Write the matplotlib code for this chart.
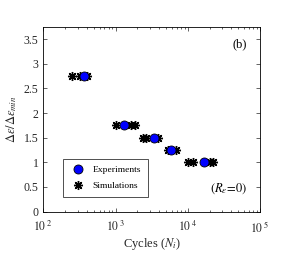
import matplotlib.pyplot as plt

plt.rcParams['font.family'] = ['Liberation Serif', 'DejaVu Serif']
plt.rcParams['mathtext.fontset'] = 'stix'

# experiments
exp_cycles = [362, 1307, 3395, 5780, 16700]
exp_strain = [2.75, 1.75, 1.5, 1.25, 1.0]

# simulations
sim_cycles = [247, 322, 402,
              1013, 1654, 1854,
              2370, 2630, 3890,
              5310, 6840,
              10030, 11750, 20000, 22250]
sim_strain = [2.75, 2.75, 2.75,
              1.75, 1.75, 1.75,
              1.5, 1.5, 1.5,
              1.25, 1.25,
              1.0, 1.0, 1.0, 1.0]

xticks = [1e2, 1e3, 1e4, 1e5]
xtick_labels = [r'$10^{\ 2}$', r'$10^{\ 3}$', r'$10^{\ 4}$', r'$10^{\ 5}$']
yticks = [0, 0.5, 1, 1.5, 2, 2.5, 3, 3.5]
ytick_labels = ['0', '0.5', '1', '1.5', '2', '2.5', '3', '3.5']

fig = plt.figure(figsize=(2.89, 2.60), dpi=100)
ax = fig.add_axes([0.15, 0.186, 0.75, 0.711])

ax.plot(sim_cycles, sim_strain, linestyle='none', marker=(8, 2, 0), markersize=6.5,
        color='black', markeredgewidth=1.0, label='Simulations', zorder=2)
ax.plot(exp_cycles, exp_strain, linestyle='none', marker='o', markersize=6.5,
        markerfacecolor='#0000ff', markeredgecolor='black', markeredgewidth=0.6,
        label='Experiments', zorder=3)

ax.set_xscale('log')
ax.set_xlim(1e2, 1e5)
ax.set_ylim(0, 3.75)
ax.set_xticks(xticks)
ax.set_xticklabels(xtick_labels)
ax.set_yticks(yticks)
ax.set_yticklabels(ytick_labels)
ax.tick_params(which='both', direction='in', top=True, right=True, labelsize=8.5,
               width=0.5, colors='#262626')
ax.tick_params(which='major', length=3)
ax.tick_params(which='minor', length=1.5)
ax.tick_params(axis='x', which='major', pad=6)
for s in ax.spines.values():
    s.set_linewidth(0.6)

ax.set_xlabel(r'Cycles ($N_i$)', fontsize=9, color='#262626', labelpad=1)
ax.set_ylabel(r'$\Delta\varepsilon/\Delta\varepsilon_{min}$', fontsize=9, color='#262626', labelpad=3)

handles, labels = ax.get_legend_handles_labels()
leg = ax.legend(handles[::-1], labels[::-1], loc='lower left', bbox_to_anchor=(0.07, 0.055),
                fontsize=6.8, frameon=True, fancybox=False, edgecolor='black',
                handletextpad=0.6, borderpad=0.7, labelspacing=0.8, handlelength=1.8)
leg.get_frame().set_linewidth(0.6)

ax.text(0.94, 0.89, '(b)', transform=ax.transAxes, ha='right', fontsize=9)
ax.text(0.94, 0.11, r'$(R_\varepsilon\!=\!0)$', transform=ax.transAxes, ha='right', fontsize=9)

fig.savefig('out.png', dpi=100)
